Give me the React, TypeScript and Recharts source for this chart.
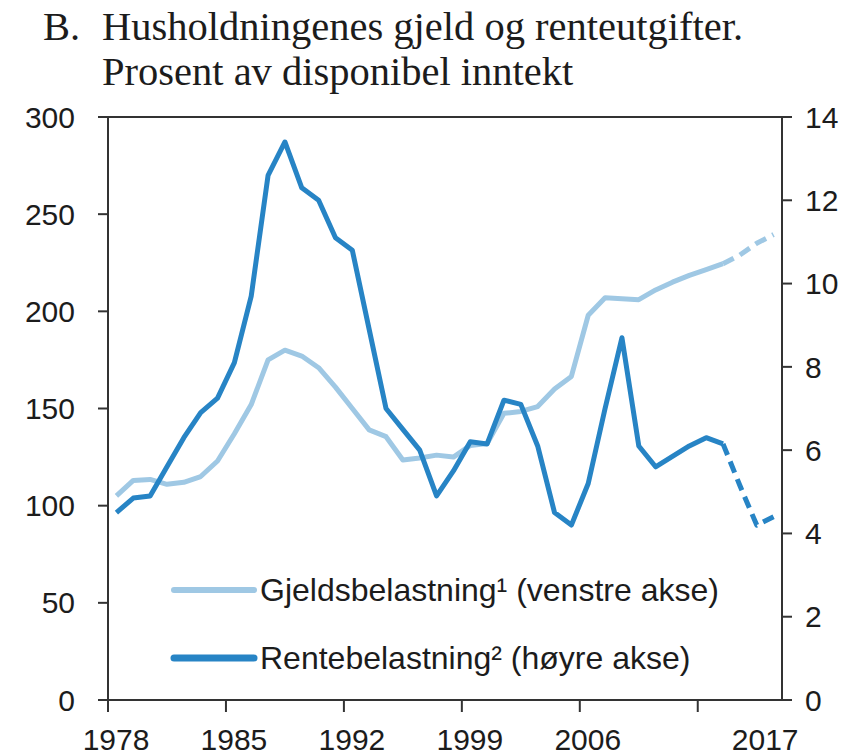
import React from "react";
import { LineChart, Line, XAxis, YAxis, ReferenceLine, Legend } from "recharts";

const years = [
  1978, 1979, 1980, 1981, 1982, 1983, 1984, 1985, 1986, 1987,
  1988, 1989, 1990, 1991, 1992, 1993, 1994, 1995, 1996, 1997,
  1998, 1999, 2000, 2001, 2002, 2003, 2004, 2005, 2006, 2007,
  2008, 2009, 2010, 2011, 2012, 2013, 2014, 2015, 2016, 2017,
];

// Gjeldsbelastning, venstre akse
const gjeld = [
  105, 113, 113.5, 111, 112, 115, 123, 137, 152, 175,
  180, 177, 171, 161, 150, 139, 135.5, 123.5, 124.5, 126,
  125, 131, 132, 147.5, 148.5, 151, 160, 166.5, 198, 207,
  206.5, 206, 211, 215, 218.5, 221.5, 224.5, 229, 235, 239.5,
];

// Rentebelastning, høyre akse
const rente = [
  4.5, 4.85, 4.9, 5.6, 6.3, 6.9, 7.25, 8.1, 9.7, 12.6,
  13.4, 12.3, 12.0, 11.1, 10.8, 8.9, 7.0, 6.5, 6.0, 4.9,
  5.5, 6.2, 6.15, 7.2, 7.1, 6.1, 4.5, 4.2, 5.2, 7.0,
  8.7, 6.1, 5.6, 5.85, 6.1, 6.3, 6.15, 5.15, 4.2, 4.4,
];

const forecastFrom = 2014;
const xTicks = [1978, 1985, 1992, 1999, 2006, 2013, 2017];
const leftTicks = [0, 50, 100, 150, 200, 250, 300];
const rightTicks = [0, 2, 4, 6, 8, 10, 12, 14];
const titleLetter = "B.";
const titleLines = ["Husholdningenes gjeld og renteutgifter.", "Prosent av disponibel inntekt"];

const LIGHT = "#9fc8e4";
const DARK = "#2784c5";
const AXIS = "#333333";
const TEXT = "#1c1c1c";

const legendItems = [
  { label: "Gjeldsbelastning\u00b9 (venstre akse)", color: LIGHT, width: 6 },
  { label: "Rentebelastning\u00b2 (høyre akse)", color: DARK, width: 7 },
];

// points sit in the middle of each year
const data = years.map((yr, i) => ({
  x: yr + 0.5,
  gjeld: yr <= forecastFrom ? gjeld[i] : null,
  gjeldProj: yr >= forecastFrom ? gjeld[i] : null,
  rente: yr <= forecastFrom ? rente[i] : null,
  renteProj: yr >= forecastFrom ? rente[i] : null,
}));

const XTick = (props: any) => {
  const { x, y, payload } = props;
  const v = payload.value;
  const showLine = v !== 2017;
  const showLabel = v !== 2013;
  const labelX = v === 2017 ? x : x + 8;
  return (
    <g>
      {showLine && <line x1={x} x2={x} y1={y} y2={y + 12} stroke={AXIS} strokeWidth={2} />}
      {showLabel && (
        <text x={labelX} y={y + 50} textAnchor="middle" fontSize={30} fill={TEXT} fontFamily="Liberation Sans">
          {v}
        </text>
      )}
    </g>
  );
};

const renderLegend = () => (
  <svg width={600} height={120}>
    {legendItems.map((item, i) => (
      <g key={item.label}>
        <line
          x1={14}
          x2={94}
          y1={30 + i * 68}
          y2={30 + i * 68}
          stroke={item.color}
          strokeWidth={item.width}
          strokeLinecap="round"
        />
        <text x={100} y={41 + i * 68} fontSize={32} fill={TEXT} fontFamily="Liberation Sans">
          {item.label}
        </text>
      </g>
    ))}
  </svg>
);

export default function App() {
  return (
    <div style={{ position: "absolute", left: 0, top: 0, width: 854, height: 756, background: "#fff" }}>
      <svg width={854} height={110} style={{ position: "absolute", left: 0, top: 0 }}>
        <g fontFamily="Liberation Serif" fontSize={40.5} fill={TEXT}>
          <text x={43} y={40}>{titleLetter}</text>
          <text x={102} y={40}>{titleLines[0]}</text>
          <text x={102} y={85}>{titleLines[1]}</text>
        </g>
      </svg>
      <div style={{ position: "absolute", left: 0, top: 0 }}>
        <LineChart
          width={854}
          height={756}
          data={data}
          margin={{ top: 117, right: 12, left: 8, bottom: 6 }}
          style={{ fontFamily: "Liberation Sans" }}
        >
          <XAxis
            type="number"
            dataKey="x"
            domain={[1978, 2018]}
            ticks={xTicks}
            interval={0}
            height={50}
            tickSize={0}
            tickMargin={0}
            tickLine={false}
            axisLine={{ stroke: AXIS, strokeWidth: 2 }}
            tick={<XTick />}
          />
          <YAxis
            yAxisId="left"
            domain={[0, 300]}
            ticks={leftTicks}
            interval={0}
            width={100}
            tickSize={10}
            tickMargin={23}
            axisLine={{ stroke: AXIS, strokeWidth: 2 }}
            tickLine={{ stroke: AXIS, strokeWidth: 2 }}
            tick={{ fontSize: 30, fill: TEXT }}
          />
          <YAxis
            yAxisId="right"
            orientation="right"
            domain={[0, 14]}
            ticks={rightTicks}
            interval={0}
            width={60}
            tickSize={10}
            tickMargin={13}
            axisLine={{ stroke: AXIS, strokeWidth: 2 }}
            tickLine={{ stroke: AXIS, strokeWidth: 2 }}
            tick={{ fontSize: 30, fill: TEXT }}
          />
          <ReferenceLine yAxisId="left" y={300} stroke={AXIS} strokeWidth={2} />
          <Legend
            layout="horizontal"
            verticalAlign="middle"
            align="center"
            wrapperStyle={{ left: 160, top: 560, width: 600, height: 120 }}
            content={renderLegend}
          />
          <Line yAxisId="left" dataKey="gjeld" stroke={LIGHT} strokeWidth={5} dot={false} strokeLinejoin="round" isAnimationActive={false} />
          <Line yAxisId="left" dataKey="gjeldProj" stroke={LIGHT} strokeWidth={5} strokeDasharray="12 7" dot={false} strokeLinejoin="round" isAnimationActive={false} />
          <Line yAxisId="right" dataKey="rente" stroke={DARK} strokeWidth={5} dot={false} strokeLinejoin="round" isAnimationActive={false} />
          <Line yAxisId="right" dataKey="renteProj" stroke={DARK} strokeWidth={5} strokeDasharray="12 7" dot={false} strokeLinejoin="round" isAnimationActive={false} />
        </LineChart>
      </div>
    </div>
  );
}
